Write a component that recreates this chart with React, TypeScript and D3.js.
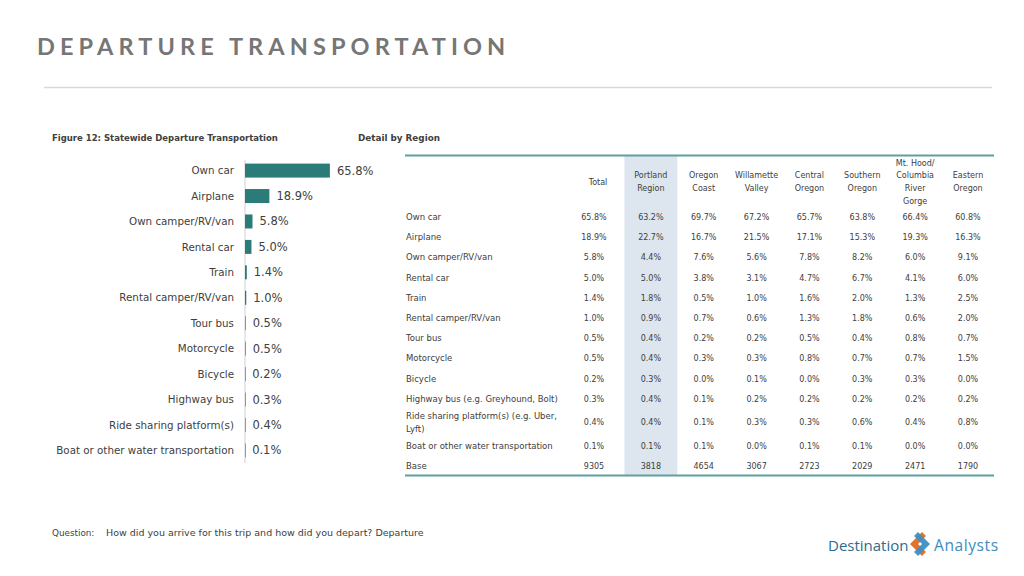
import React from "react";
import * as d3 from "d3";

const categories = [
  "Own car",
  "Airplane",
  "Own camper/RV/van",
  "Rental car",
  "Train",
  "Rental camper/RV/van",
  "Tour bus",
  "Motorcycle",
  "Bicycle",
  "Highway bus",
  "Ride sharing platform(s)",
  "Boat or other water transportation",
];
const totals = [65.8, 18.9, 5.8, 5.0, 1.4, 1.0, 0.5, 0.5, 0.2, 0.3, 0.4, 0.1];

const tableRows = [
  "Own car",
  "Airplane",
  "Own camper/RV/van",
  "Rental car",
  "Train",
  "Rental camper/RV/van",
  "Tour bus",
  "Motorcycle",
  "Bicycle",
  "Highway bus (e.g. Greyhound, Bolt)",
  "Ride sharing platform(s) (e.g. Uber,|Lyft)",
  "Boat or other water transportation",
];
const columnHeaders = [
  "Total",
  "Portland|Region",
  "Oregon|Coast",
  "Willamette|Valley",
  "Central|Oregon",
  "Southern|Oregon",
  "Mt. Hood/|Columbia|River|Gorge",
  "Eastern|Oregon",
];
const totalCol = [65.8, 18.9, 5.8, 5.0, 1.4, 1.0, 0.5, 0.5, 0.2, 0.3, 0.4, 0.1];
const portland = [63.2, 22.7, 4.4, 5.0, 1.8, 0.9, 0.4, 0.4, 0.3, 0.4, 0.4, 0.1];
const oregonCoast = [69.7, 16.7, 7.6, 3.8, 0.5, 0.7, 0.2, 0.3, 0.0, 0.1, 0.1, 0.1];
const willamette = [67.2, 21.5, 5.6, 3.1, 1.0, 0.6, 0.2, 0.3, 0.1, 0.2, 0.3, 0.0];
const centralOregon = [65.7, 17.1, 7.8, 4.7, 1.6, 1.3, 0.5, 0.8, 0.0, 0.2, 0.3, 0.1];
const southernOregon = [63.8, 15.3, 8.2, 6.7, 2.0, 1.8, 0.4, 0.7, 0.3, 0.2, 0.6, 0.1];
const mtHood = [66.4, 19.3, 6.0, 4.1, 1.3, 0.6, 0.8, 0.7, 0.3, 0.2, 0.4, 0.0];
const easternOregon = [60.8, 16.3, 9.1, 6.0, 2.5, 2.0, 0.7, 1.5, 0.0, 0.2, 0.8, 0.0];
const baseCounts = [9305, 3818, 4654, 3067, 2723, 2029, 2471, 1790];

const columns = [totalCol, portland, oregonCoast, willamette, centralOregon, southernOregon, mtHood, easternOregon];

const FONT = "'DejaVu Sans', sans-serif";
const TEXT = "#404040";
const TEAL = "#2b7c79";

export default function App() {
  const x = d3.scaleLinear().domain([0, 100]).range([245, 374]);
  const y = d3.scaleBand().domain(categories).range([158, 463]).paddingInner(0.45).paddingOuter(0.22);
  const fmt = (v: number) => v.toFixed(1) + "%";

  const colX = d3.scalePoint().domain(columnHeaders).range([598, 968]);
  const colStep = colX.step();

  // table row positions
  const rowTop = 207;
  const rowH = 20.2;
  const rowDouble = 27;
  const allRows = [...tableRows, "Base"];
  const rowCenters: number[] = [];
  let acc = rowTop;
  allRows.forEach((r) => {
    const h = r.includes("|") ? rowDouble : rowH;
    rowCenters.push(acc + h / 2);
    acc += h;
  });
  const tableBottom = acc - 1;

  return (
    <svg width={1024} height={576} style={{ display: "block", position: "absolute", left: 0, top: 0, background: "#fff" }} fontFamily={FONT}>
      <rect width={1024} height={576} fill="#fff" />
      <text x={37} y={55} fontSize={23.5} fontWeight="bold" fill="#767676" letterSpacing={5.1} fontFamily="Lato, sans-serif">
        DEPARTURE TRANSPORTATION
      </text>
      <line x1={44} x2={992} y1={87.5} y2={87.5} stroke="#d9d9d9" strokeWidth={1.5} />

      <text x={52} y={141} fontSize={8.5} fontWeight="bold" fill={TEXT}>Figure 12: Statewide Departure Transportation</text>
      <text x={358} y={141} fontSize={8.8} fontWeight="bold" fill={TEXT}>Detail by Region</text>

      {/* bar chart */}
      <line x1={245} x2={245} y1={160} y2={463} stroke="#d0d0d0" strokeWidth={1} />
      {categories.map((c, i) => {
        const yy = y(c)!;
        const w = x(totals[i]) - x(0);
        return (
          <g key={c}>
            <rect x={x(0)} y={yy} width={Math.max(w, 0.6)} height={y.bandwidth()} fill={TEAL} />
            <text x={234} y={yy + y.bandwidth() / 2} dy="0.35em" textAnchor="end" fontSize={10.3} fill={TEXT}>{c}</text>
            <text x={x(totals[i]) + 7} y={yy + y.bandwidth() / 2} dy="0.35em" fontSize={11.5} fill={TEXT}>{fmt(totals[i])}</text>
          </g>
        );
      })}

      {/* table */}
      <rect x={colX(columnHeaders[1])! - colStep / 2} y={156} width={colStep} height={tableBottom - 156} fill="#dde6ef" />
      <line x1={405} x2={994} y1={155.5} y2={155.5} stroke="#5f9fa0" strokeWidth={2} />
      <line x1={405} x2={994} y1={tableBottom} y2={tableBottom} stroke="#5f9fa0" strokeWidth={2} />

      {columnHeaders.map((h) => {
        const lines = h.split("|");
        const cx = colX(h)!;
        const lh = 12.7;
        const start = 182 - ((lines.length - 1) * lh) / 2;
        return (
          <text key={h} x={cx} textAnchor="middle" fontSize={8} fill={TEXT}>
            {lines.map((l, k) => (
              <tspan key={k} x={cx} y={start + k * lh} dy="0.35em">{l}</tspan>
            ))}
          </text>
        );
      })}

      {allRows.map((r, i) => {
        const lines = r.split("|");
        const cy = rowCenters[i];
        return (
          <g key={r}>
            <text fontSize={8.5} fill={TEXT}>
              {lines.map((l, k) => (
                <tspan key={k} x={406} y={cy - ((lines.length - 1) * 12.5) / 2 + k * 12.5} dy="0.35em">{l}</tspan>
              ))}
            </text>
            {columnHeaders.map((h, j) => {
              const val = r === "Base" ? String(baseCounts[j]) : fmt(columns[j][i]);
              return (
                <text key={h} x={colX(h)! - (j === 0 ? 4 : 0)} y={cy} dy="0.35em" textAnchor="middle" fontSize={8} fill={TEXT}>
                  {val}
                </text>
              );
            })}
          </g>
        );
      })}

      <text x={52} y={536} fontSize={8.8} fill={TEXT}>Question:</text>
      <text x={106} y={536} fontSize={9.5} fill={TEXT}>How did you arrive for this trip and how did you depart? Departure</text>

      {/* logo */}
      <text x={828} y={551} fontSize={15} fill="#2d6c8c" fontFamily="'Open Sans', sans-serif">Destination</text>
      <g transform="translate(920,544)">
        <path d="M2,-12 L-10,0 L2,12 L6,8 L-2,0 L6,-8 Z" fill="#e0742f" />
        <path d="M-2,-12 L10,0 L-2,12 L-6,8 L2,0 L-6,-8 Z" fill="#3e8fc4" opacity={0.95} />
      </g>
      <text x={934} y={551} fontSize={15.5} fill="#3d8cc0" fontFamily="'Open Sans', sans-serif" letterSpacing={0.6}>Analysts</text>
    </svg>
  );
}
